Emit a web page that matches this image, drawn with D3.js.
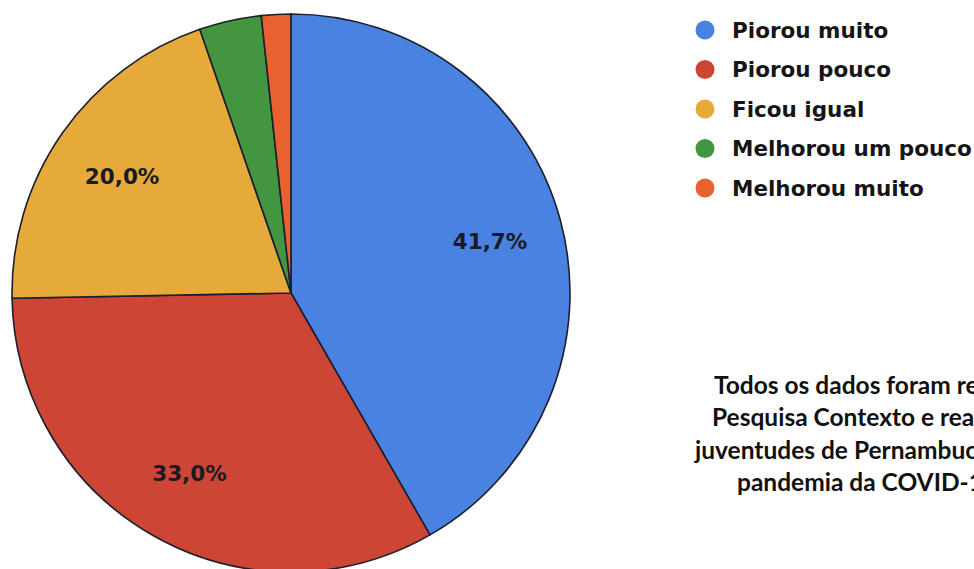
<!DOCTYPE html>
<html>
<head>
<meta charset="utf-8">
<script src="https://cdn.jsdelivr.net/npm/d3@7"></script>
<style>
  body{margin:0;background:#fff;overflow:hidden;}
  svg{display:block;}
</style>
</head>
<body>
<div id="grafico"></div>
<script>
// dados
var categorias = ["Piorou muito", "Piorou pouco", "Ficou igual", "Melhorou um pouco", "Melhorou muito"];
var valores = [41.7, 33.0, 20.0, 3.6, 1.7];
var rotulos = ["41,7%", "33,0%", "20,0%", "", ""];
var cores = ["#4a82e2", "#cd4535", "#e6aa3a", "#44953f", "#e8612e"];
var notaLinhas = ["Todos os dados foram retirados da", "Pesquisa Contexto e realidade das", "juventudes de Pernambuco durante a", "pandemia da COVID-19"];
var notaX = [714, 712, 695, 737];

var width = 974, height = 569;
var cx = 291, cy = 293, raio = 279;

var svg = d3.select("#grafico").append("svg")
    .attr("width", width)
    .attr("height", height);

var cor = d3.scaleOrdinal().domain(categorias).range(cores);

var pie = d3.pie().sort(null).value(function(d){ return d.valor; });
var dados = categorias.map(function(c, i){ return {nome: c, valor: valores[i], rotulo: rotulos[i]}; });
var fatias = pie(dados);

var arco = d3.arc().innerRadius(0).outerRadius(raio);
var arcoRotulo = d3.arc().innerRadius(206).outerRadius(206);

var g = svg.append("g").attr("transform", "translate(" + cx + "," + cy + ")");

g.selectAll("path")
    .data(fatias)
    .enter()
    .append("path")
    .attr("d", arco)
    .attr("fill", function(d){ return cor(d.data.nome); })
    .attr("stroke", "#1c1f2e")
    .attr("stroke-width", 1.6)
    .attr("stroke-linejoin", "round");

g.selectAll("text.rot")
    .data(fatias)
    .enter()
    .append("text")
    .attr("class", "rot")
    .attr("transform", function(d){ return "translate(" + arcoRotulo.centroid(d) + ")"; })
    .attr("text-anchor", "middle")
    .attr("dy", "0.4em")
    .style("font-family", "'DejaVu Sans', Verdana, sans-serif")
    .style("font-weight", "bold")
    .style("font-size", "21.5px")
    .style("fill", "#1a1a22")
    .text(function(d){ return d.data.rotulo; });

// legenda
var leg = svg.append("g").attr("transform", "translate(705,30)");
var item = leg.selectAll("g")
    .data(categorias)
    .enter()
    .append("g")
    .attr("transform", function(d, i){ return "translate(0," + (i * 39.5) + ")"; });

item.append("circle")
    .attr("r", 9.5)
    .attr("fill", function(d){ return cor(d); });

item.append("text")
    .attr("x", 27)
    .attr("dy", "0.36em")
    .style("font-family", "'DejaVu Sans', Verdana, sans-serif")
    .style("font-weight", "bold")
    .style("font-size", "21.5px")
    .style("fill", "#151515")
    .text(function(d){ return d; });

// nota
svg.append("g").selectAll("text")
    .data(notaLinhas)
    .enter()
    .append("text")
    .attr("x", function(d, i){ return notaX[i]; })
    .attr("y", function(d, i){ return 394 + i * 32.3; })
    .style("font-family", "Lato, sans-serif")
    .style("font-weight", "bold")
    .style("font-size", "24.5px")
    .style("fill", "#111")
    .text(function(d){ return d; });
</script>
</body>
</html>
